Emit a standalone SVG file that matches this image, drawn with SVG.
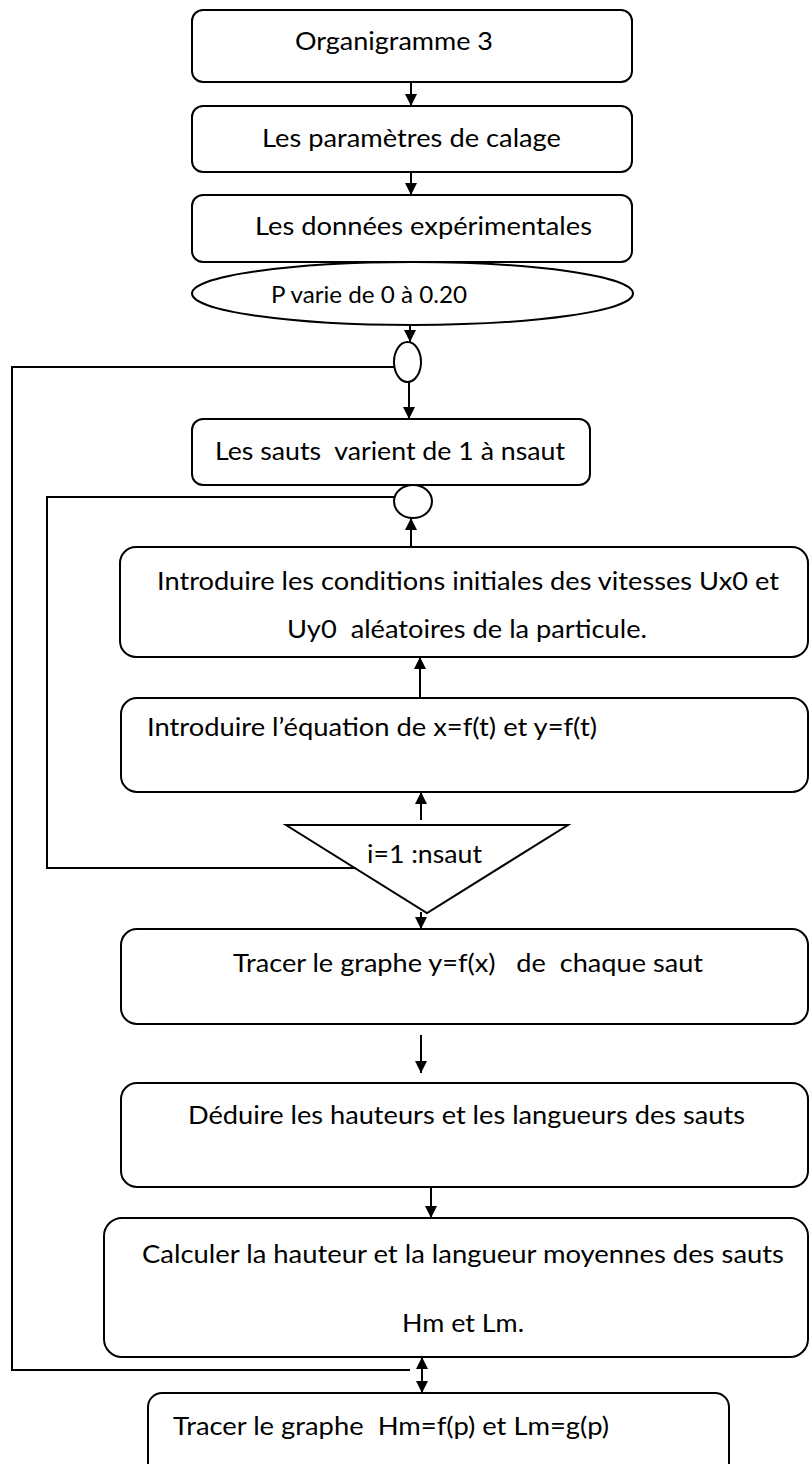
<svg xmlns="http://www.w3.org/2000/svg" width="809" height="1464" viewBox="0 0 809 1464">
<style>
.b{fill:#fff;stroke:#000;stroke-width:2}
.t{font-family:Lato,"Liberation Sans",sans-serif;font-size:25px;fill:#000;white-space:pre}
.c{fill:none;stroke:#000;stroke-width:2}
</style>
<defs>
<marker id="ah" viewBox="0 0 12 12" refX="12" refY="6" markerWidth="12" markerHeight="13" orient="auto-start-reverse" markerUnits="userSpaceOnUse">
<path d="M0,0 L12,6 L0,12 z" fill="#000"/>
</marker>
</defs>
<rect width="809" height="1464" fill="#fff"/>
<g id="n1"><rect class="b" x="192" y="10" width="440" height="72" rx="11"/><text class="t" x="295" y="50" textLength="198" lengthAdjust="spacingAndGlyphs">Organigramme 3</text></g>
<g id="n2"><rect class="b" x="192" y="106" width="440" height="66" rx="11"/><text class="t" x="262" y="147" textLength="299" lengthAdjust="spacingAndGlyphs">Les paramètres de calage</text></g>
<g id="n3"><rect class="b" x="192" y="195" width="440" height="67" rx="11"/><text class="t" x="255" y="235" textLength="337" lengthAdjust="spacingAndGlyphs">Les données expérimentales</text></g>
<g id="n4"><ellipse class="b" cx="412.5" cy="293.5" rx="220.5" ry="31.5"/><text class="t" x="271" y="303" style="font-size:23px" textLength="196" lengthAdjust="spacingAndGlyphs">P varie de 0 à 0.20</text></g>
<g id="j1"><ellipse class="b" cx="407.5" cy="362" rx="13.5" ry="20"/></g>
<g id="n5"><rect class="b" x="192" y="419" width="398" height="66" rx="11"/><text class="t" x="215" y="460" textLength="350" lengthAdjust="spacingAndGlyphs">Les sauts  varient de 1 à nsaut</text></g>
<g id="j2"><ellipse class="b" cx="413" cy="501.5" rx="19" ry="16.5"/></g>
<g id="n6"><rect class="b" x="120" y="547" width="688" height="110" rx="16"/><text class="t" x="157" y="590" textLength="622" lengthAdjust="spacingAndGlyphs">Introduire les conditions initiales des vitesses Ux0 et</text><text class="t" x="287" y="638" textLength="360" lengthAdjust="spacingAndGlyphs">Uy0  aléatoires de la particule.</text></g>
<g id="n7"><rect class="b" x="121" y="698" width="687" height="94" rx="16"/><text class="t" x="147" y="736" textLength="450" lengthAdjust="spacingAndGlyphs">Introduire l’équation de x=f(t) et y=f(t)</text></g>
<g id="n8"><polygon class="b" points="286,825 568,825 427,913"/><text class="t" x="367" y="863" textLength="115" lengthAdjust="spacingAndGlyphs">i=1 :nsaut</text></g>
<g id="n9"><rect class="b" x="121" y="929" width="687" height="95" rx="16"/><text class="t" x="233" y="972" textLength="470" lengthAdjust="spacingAndGlyphs">Tracer le graphe y=f(x)   de  chaque saut</text></g>
<g id="n10"><rect class="b" x="121" y="1083" width="687" height="104" rx="16"/><text class="t" x="188" y="1124" textLength="557" lengthAdjust="spacingAndGlyphs">Déduire les hauteurs et les langueurs des sauts</text></g>
<g id="n11"><rect class="b" x="104" y="1218" width="704" height="139" rx="18"/><text class="t" x="142" y="1263" textLength="642" lengthAdjust="spacingAndGlyphs">Calculer la hauteur et la langueur moyennes des sauts</text><text class="t" x="402" y="1332" textLength="122" lengthAdjust="spacingAndGlyphs">Hm et Lm.</text></g>
<g id="n12"><rect class="b" x="148" y="1393" width="581" height="85" rx="14"/><text class="t" x="173" y="1435" textLength="436" lengthAdjust="spacingAndGlyphs">Tracer le graphe  Hm=f(p) et Lm=g(p)</text></g>
<g id="connectors">
<line class="c" x1="411" y1="82" x2="411" y2="106" marker-end="url(#ah)"/>
<line class="c" x1="411" y1="172" x2="411" y2="195" marker-end="url(#ah)"/>
<line class="c" x1="410" y1="325" x2="410" y2="342" marker-end="url(#ah)"/>
<line class="c" x1="409" y1="382" x2="409" y2="419" marker-end="url(#ah)"/>
<polyline class="c" points="394,367 12,367 12,1370 410,1370"/>
<line class="c" x1="411" y1="547" x2="411" y2="518" marker-end="url(#ah)"/>
<line class="c" x1="420" y1="698" x2="420" y2="657" marker-end="url(#ah)"/>
<line class="c" x1="421" y1="820" x2="421" y2="792" marker-end="url(#ah)"/>
<polyline class="c" points="356,868 47,868 47,497 395,497"/>
<line class="c" x1="421" y1="912" x2="421" y2="929" marker-end="url(#ah)"/>
<line class="c" x1="421" y1="1035" x2="421" y2="1073" marker-end="url(#ah)"/>
<line class="c" x1="431" y1="1187" x2="431" y2="1218" marker-end="url(#ah)"/>
<line class="c" x1="422" y1="1357" x2="422" y2="1393" marker-start="url(#ah)" marker-end="url(#ah)"/>
</g>
</svg>
